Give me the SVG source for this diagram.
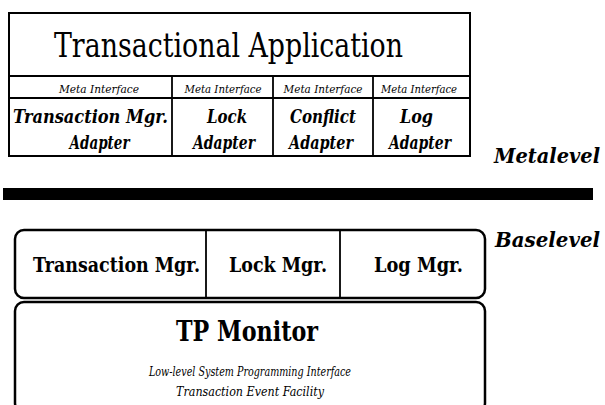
<svg xmlns="http://www.w3.org/2000/svg" width="605" height="405" viewBox="0 0 605 405">
<style>
.box{fill:#fff;stroke:#000;stroke-width:2}
.rbox{fill:#fff;stroke:#000;stroke-width:2.5}
.ln{stroke:#000;stroke-width:1.8;fill:none}
.t{fill:#000;font-family:'DejaVu Serif','Liberation Serif',serif}
.title{font-size:33px}
.meta{font-size:11.5px;font-style:italic}
.adp{font-size:18px;font-style:italic;font-weight:bold}
.lvl{font-size:20px;font-style:italic;font-weight:bold}
.mgr{font-size:19.5px;font-weight:bold}
.tp{font-size:27px;font-weight:bold}
.sub{font-size:12px;font-style:italic}
</style>
<rect x="0" y="0" width="605" height="405" fill="#fff"/>
<g id="metalevel-stack">
  <rect class="box" x="9" y="13" width="461" height="143"/>
  <line class="ln" x1="9" y1="76" x2="470" y2="76"/>
  <line class="ln" x1="9" y1="98" x2="470" y2="98"/>
  <line class="ln" x1="172" y1="76" x2="172" y2="156"/>
  <line class="ln" x1="273" y1="76" x2="273" y2="156"/>
  <line class="ln" x1="373" y1="76" x2="373" y2="156"/>
</g>
<g id="transactional-application">
  <text class="t title" x="54" y="57" textLength="349" lengthAdjust="spacingAndGlyphs">Transactional Application</text>
</g>
<g id="tm-adapter">
  <text class="t meta" x="99" y="93" text-anchor="middle" textLength="80" lengthAdjust="spacingAndGlyphs">Meta Interface</text>
  <text class="t adp" x="90.5" y="123" text-anchor="middle" textLength="155" lengthAdjust="spacingAndGlyphs">Transaction Mgr.</text>
  <text class="t adp" x="99.5" y="149" text-anchor="middle" textLength="60" lengthAdjust="spacingAndGlyphs">Adapter</text>
</g>
<g id="lock-adapter">
  <text class="t meta" x="223" y="93" text-anchor="middle" textLength="77" lengthAdjust="spacingAndGlyphs">Meta Interface</text>
  <text class="t adp" x="227" y="123" text-anchor="middle" textLength="40" lengthAdjust="spacingAndGlyphs">Lock</text>
  <text class="t adp" x="224" y="149" text-anchor="middle" textLength="62" lengthAdjust="spacingAndGlyphs">Adapter</text>
</g>
<g id="conflict-adapter">
  <text class="t meta" x="323" y="93" text-anchor="middle" textLength="79" lengthAdjust="spacingAndGlyphs">Meta Interface</text>
  <text class="t adp" x="323" y="123" text-anchor="middle" textLength="66" lengthAdjust="spacingAndGlyphs">Conflict</text>
  <text class="t adp" x="321" y="149" text-anchor="middle" textLength="64" lengthAdjust="spacingAndGlyphs">Adapter</text>
</g>
<g id="log-adapter">
  <text class="t meta" x="419" y="93" text-anchor="middle" textLength="76" lengthAdjust="spacingAndGlyphs">Meta Interface</text>
  <text class="t adp" x="416.5" y="123" text-anchor="middle" textLength="33" lengthAdjust="spacingAndGlyphs">Log</text>
  <text class="t adp" x="420" y="149" text-anchor="middle" textLength="62" lengthAdjust="spacingAndGlyphs">Adapter</text>
</g>
<g id="metalevel-label">
  <text class="t lvl" x="494" y="163" textLength="106" lengthAdjust="spacingAndGlyphs">Metalevel</text>
</g>
<g id="divider">
  <rect x="3" y="188" width="590" height="12" fill="#000"/>
</g>
<g id="baselevel-label">
  <text class="t lvl" x="495" y="247" textLength="105" lengthAdjust="spacingAndGlyphs">Baselevel</text>
</g>
<g id="managers">
  <rect class="rbox" x="15" y="230" width="470" height="68" rx="9" ry="9"/>
  <line class="ln" x1="206" y1="230" x2="206" y2="298"/>
  <line class="ln" x1="340" y1="230" x2="340" y2="298"/>
</g>
<g id="transaction-mgr">
  <text class="t mgr" x="33" y="272" textLength="167" lengthAdjust="spacingAndGlyphs">Transaction Mgr.</text>
</g>
<g id="lock-mgr">
  <text class="t mgr" x="229" y="272" textLength="98" lengthAdjust="spacingAndGlyphs">Lock Mgr.</text>
</g>
<g id="log-mgr">
  <text class="t mgr" x="374" y="272" textLength="89" lengthAdjust="spacingAndGlyphs">Log Mgr.</text>
</g>
<g id="tp-monitor">
  <rect class="rbox" x="15" y="302" width="470" height="110" rx="9" ry="9"/>
  <text class="t tp" x="247" y="341" text-anchor="middle" textLength="142" lengthAdjust="spacingAndGlyphs">TP Monitor</text>
  <text class="t sub" x="250" y="376" text-anchor="middle" textLength="202" lengthAdjust="spacingAndGlyphs">Low-level System Programming Interface</text>
  <text class="t sub" x="250" y="396" text-anchor="middle" textLength="148" lengthAdjust="spacingAndGlyphs">Transaction Event Facility</text>
</g>
<g id="connectors"></g>
</svg>
